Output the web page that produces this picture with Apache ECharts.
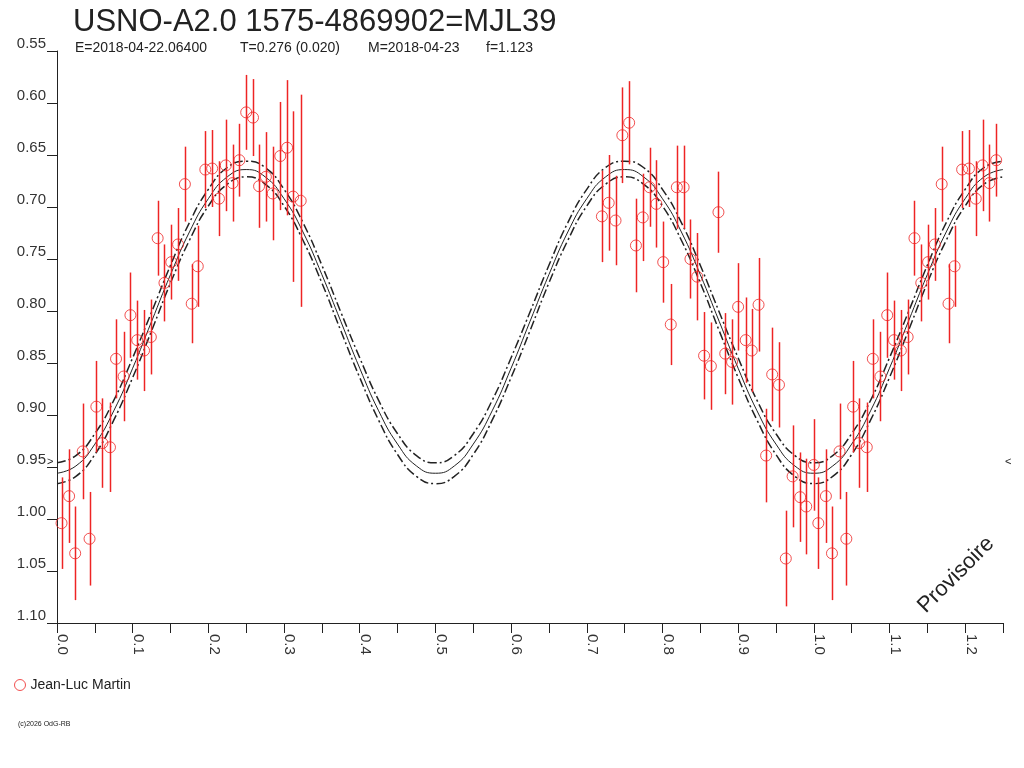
<!DOCTYPE html>
<html>
<head>
<meta charset="utf-8">
<title>USNO-A2.0 1575-4869902=MJL39</title>
<script src="https://cdn.jsdelivr.net/npm/echarts@6/dist/echarts.min.js"></script>
<style>
  html, body { margin: 0; padding: 0; background: #fff; }
  #chart { width: 1024px; height: 768px; }
</style>
</head>
<body>
<div id="chart"></div>
<script>
const obsPhase = [0.006, 0.016, 0.024, 0.034, 0.043, 0.052, 0.060, 0.070, 0.078, 0.088, 0.097, 0.106,
    0.115, 0.124, 0.133, 0.142, 0.151, 0.160, 0.169, 0.178, 0.186, 0.196, 0.205, 0.214,
    0.223, 0.232, 0.241, 0.250, 0.259, 0.267, 0.276, 0.285, 0.295, 0.304, 0.312, 0.322,
    0.720, 0.729, 0.738, 0.747, 0.756, 0.765, 0.774, 0.783, 0.792, 0.801, 0.811, 0.819,
    0.828, 0.837, 0.846, 0.855, 0.864, 0.874, 0.883, 0.892, 0.900, 0.910, 0.918, 0.927,
    0.937, 0.945, 0.954, 0.963, 0.972, 0.982, 0.990, 1.000];
const obsMag = [1.004, 0.978, 1.033, 0.935, 1.019, 0.892, 0.927, 0.931, 0.846, 0.863, 0.804, 0.828,
    0.838, 0.825, 0.730, 0.773, 0.753, 0.736, 0.678, 0.793, 0.757, 0.664, 0.663, 0.692,
    0.660, 0.677, 0.655, 0.609, 0.614, 0.680, 0.671, 0.687, 0.651, 0.643, 0.690, 0.694,
    0.709, 0.696, 0.713, 0.631, 0.619, 0.737, 0.710, 0.681, 0.697, 0.753, 0.813, 0.681,
    0.681, 0.750, 0.767, 0.843, 0.853, 0.705, 0.841, 0.849, 0.796, 0.828, 0.838, 0.794,
    0.939, 0.861, 0.871, 1.038, 0.959, 0.979, 0.988, 0.948];
const obsErr = [0.044, 0.045, 0.045, 0.046, 0.045, 0.044, 0.043, 0.043, 0.038, 0.043, 0.041, 0.038,
    0.039, 0.036, 0.036, 0.037, 0.036, 0.035, 0.036, 0.038, 0.039, 0.037, 0.037, 0.036,
    0.044, 0.037, 0.035, 0.036, 0.037, 0.040, 0.043, 0.045, 0.052, 0.065, 0.082, 0.102,
    0.044, 0.046, 0.043, 0.046, 0.040, 0.045, 0.042, 0.038, 0.042, 0.039, 0.039, 0.040,
    0.040, 0.038, 0.042, 0.042, 0.042, 0.039, 0.039, 0.041, 0.042, 0.041, 0.040, 0.045,
    0.045, 0.045, 0.041, 0.046, 0.049, 0.043, 0.046, 0.044];

// fitted light curve and its envelope
const curvePhase = [0.000, 0.025, 0.050, 0.075, 0.100, 0.125, 0.150, 0.175, 0.200, 0.225, 0.250,
    0.275, 0.300, 0.325, 0.350, 0.375, 0.400, 0.425, 0.450, 0.475, 0.500,
    0.525, 0.550, 0.575, 0.600, 0.625, 0.650, 0.675, 0.700, 0.725, 0.750,
    0.775, 0.800, 0.825, 0.850, 0.875, 0.900, 0.925, 0.950, 0.975, 1.000,
    1.025, 1.050, 1.075, 1.100, 1.125, 1.150, 1.175, 1.200, 1.225, 1.250];
const curveMid = [0.956, 0.949, 0.928, 0.896, 0.855, 0.810, 0.765, 0.724, 0.692, 0.671, 0.664,
    0.671, 0.692, 0.724, 0.765, 0.810, 0.855, 0.896, 0.928, 0.949, 0.956,
    0.949, 0.928, 0.896, 0.855, 0.810, 0.765, 0.724, 0.692, 0.671, 0.664,
    0.671, 0.692, 0.724, 0.765, 0.810, 0.855, 0.896, 0.928, 0.949, 0.956,
    0.949, 0.928, 0.896, 0.855, 0.810, 0.765, 0.724, 0.692, 0.671, 0.664];
const curveUp = [0.946, 0.939, 0.918, 0.886, 0.845, 0.801, 0.756, 0.715, 0.683, 0.662, 0.656,
    0.662, 0.683, 0.715, 0.756, 0.801, 0.845, 0.886, 0.918, 0.939, 0.946,
    0.939, 0.918, 0.886, 0.845, 0.801, 0.756, 0.715, 0.683, 0.662, 0.656,
    0.662, 0.683, 0.715, 0.756, 0.801, 0.845, 0.886, 0.918, 0.939, 0.946,
    0.939, 0.918, 0.886, 0.845, 0.801, 0.756, 0.715, 0.683, 0.662, 0.656];
const curveLow = [0.966, 0.959, 0.938, 0.905, 0.864, 0.819, 0.773, 0.732, 0.699, 0.678, 0.671,
    0.678, 0.699, 0.732, 0.773, 0.819, 0.864, 0.905, 0.938, 0.959, 0.966,
    0.959, 0.938, 0.905, 0.864, 0.819, 0.773, 0.732, 0.699, 0.678, 0.671,
    0.678, 0.699, 0.732, 0.773, 0.819, 0.864, 0.905, 0.938, 0.959, 0.966,
    0.959, 0.938, 0.905, 0.864, 0.819, 0.773, 0.732, 0.699, 0.678, 0.671];

const refMag = 0.948;
const phaseMax = 1.25;
const observer = 'Jean-Luc Martin';

const RED = '#ee2424';
const INK = '#222';
const FONT = 'Liberation Sans';

// points of phase < 0.25 are repeated one cycle later
const points = [];
obsPhase.forEach(function (p, i) {
    points.push([p, obsMag[i], obsErr[i]]);
    if (p + 1 < phaseMax) points.push([p + 1, obsMag[i], obsErr[i]]);
});

function curve(mags) {
    return curvePhase.map(function (p, i) { return [p, mags[i]]; });
}

const chart = echarts.init(document.getElementById('chart'));

const dashStyle = { color: INK, width: 1.5, type: [9, 3, 2, 3] };

const option = {
    animation: false,
    backgroundColor: '#fff',
    textStyle: { fontFamily: FONT },
    title: [
        { text: 'USNO-A2.0 1575-4869902=MJL39', left: 73, top: 7, padding: 0,
          textStyle: { fontSize: 31, fontWeight: 'normal', color: INK, fontFamily: FONT } },
        { text: 'E=2018-04-22.06400', left: 75, top: 41, padding: 0,
          textStyle: { fontSize: 14, fontWeight: 'normal', color: INK, fontFamily: FONT } },
        { text: 'T=0.276 (0.020)', left: 240, top: 41, padding: 0,
          textStyle: { fontSize: 14, fontWeight: 'normal', color: INK, fontFamily: FONT } },
        { text: 'M=2018-04-23', left: 368, top: 41, padding: 0,
          textStyle: { fontSize: 14, fontWeight: 'normal', color: INK, fontFamily: FONT } },
        { text: 'f=1.123', left: 486, top: 41, padding: 0,
          textStyle: { fontSize: 14, fontWeight: 'normal', color: INK, fontFamily: FONT } }
    ],
    legend: {
        data: [observer],
        left: 9, top: 673,
        icon: 'circle',
        itemWidth: 11, itemHeight: 11, itemGap: 6,
        itemStyle: { color: 'transparent', borderColor: RED, borderWidth: 1 },
        textStyle: { fontSize: 14, color: INK, fontFamily: FONT }
    },
    grid: { left: 57, top: 51, width: 946, height: 572, containLabel: false },
    xAxis: {
        type: 'value',
        min: 0, max: phaseMax, interval: 0.05,
        axisLine: { show: true, lineStyle: { color: INK, width: 1 } },
        axisTick: { show: true, inside: false, length: 10, lineStyle: { color: INK, width: 1 } },
        splitLine: { show: false },
        axisLabel: {
            rotate: -90, margin: 11, fontSize: 15, color: '#333', fontFamily: FONT,
            verticalAlign: 'bottom', lineHeight: 11,
            formatter: function (v) {
                return Math.round(v * 100) % 10 === 0 ? v.toFixed(1) : '';
            }
        }
    },
    yAxis: {
        type: 'value',
        inverse: true,
        min: 0.55, max: 1.10, interval: 0.05,
        axisLine: { show: true, lineStyle: { color: INK, width: 1 } },
        axisTick: { show: true, inside: false, length: 10, lineStyle: { color: INK, width: 1 } },
        splitLine: { show: false },
        axisLabel: {
            margin: 11, fontSize: 15, color: '#333', fontFamily: FONT,
            verticalAlign: 'bottom',
            formatter: function (v) { return v.toFixed(2); }
        }
    },
    series: [
        {
            name: 'fit', type: 'line', data: curve(curveMid), smooth: true,
            showSymbol: false, silent: true, z: 2,
            lineStyle: { color: INK, width: 1 }
        },
        {
            name: 'fit+', type: 'line', data: curve(curveUp), smooth: true,
            showSymbol: false, silent: true, z: 2, lineStyle: dashStyle
        },
        {
            name: 'fit-', type: 'line', data: curve(curveLow), smooth: true,
            showSymbol: false, silent: true, z: 2, lineStyle: dashStyle
        },
        {
            name: 'errors', type: 'custom', data: points, z: 3, silent: true,
            encode: { x: 0, y: 1 },
            renderItem: function (params, api) {
                const x = api.value(0), y = api.value(1), e = api.value(2);
                const a = api.coord([x, y - e]);
                const b = api.coord([x, y + e]);
                return {
                    type: 'line',
                    shape: { x1: Math.round(a[0]) + 0.5, y1: a[1], x2: Math.round(b[0]) + 0.5, y2: b[1] },
                    style: { stroke: RED, lineWidth: 1.5 }
                };
            }
        },
        {
            name: observer, type: 'scatter', z: 4,
            data: points.map(function (d) { return [d[0], d[1]]; }),
            symbol: 'circle', symbolSize: 11,
            itemStyle: { color: 'transparent', borderColor: RED, borderWidth: 1 }
        }
    ]
};

chart.setOption(option);

// reference level markers and page notes
const refLeft = chart.convertToPixel({ gridIndex: 0 }, [0, refMag]);
const refRight = chart.convertToPixel({ gridIndex: 0 }, [phaseMax, refMag]);

chart.setOption({
    graphic: [
        { type: 'text', left: refLeft[0] - 10, top: refLeft[1] - 8,
          style: { text: '>', fontSize: 11, fill: INK, fontFamily: FONT } },
        { type: 'text', left: refRight[0] + 2, top: refRight[1] - 8,
          style: { text: '<', fontSize: 11, fill: INK, fontFamily: FONT } },
        { type: 'text', x: 956, y: 575, rotation: Math.PI / 4,
          style: { text: 'Provisoire', fontSize: 22, fill: INK, fontFamily: FONT,
                   align: 'center', verticalAlign: 'middle' } },
        { type: 'text', left: 18, top: 721,
          style: { text: '(c)2026 OdG-RB', fontSize: 7, fill: INK, fontFamily: FONT } }
    ]
});
</script>
</body>
</html>
